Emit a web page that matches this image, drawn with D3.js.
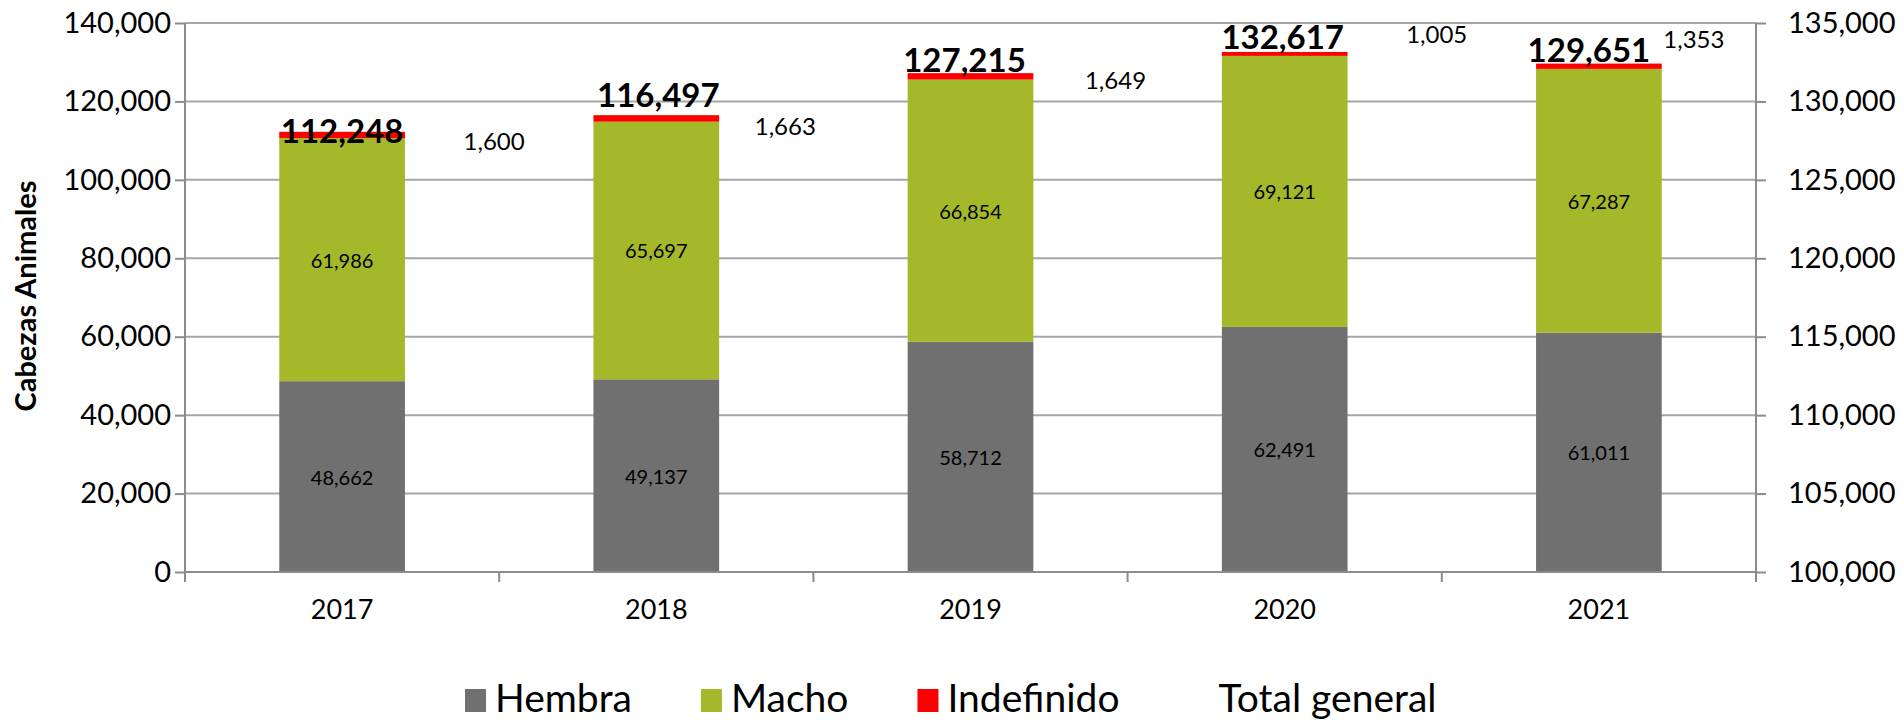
<!DOCTYPE html>
<html>
<head>
<meta charset="utf-8">
<script src="https://cdn.jsdelivr.net/npm/d3@7"></script>
<style>
  body { margin: 0; background: #fff; }
  svg { display: block; font-family: Lato, "Open Sans", sans-serif; }
  .grid line { stroke: #a6a6a6; stroke-width: 2; }
  .axis path, .axis line { stroke: #8c8c8c; stroke-width: 2; }
  .axis text { fill: #000; font-size: 29px; font-family: Lato, "Open Sans", sans-serif; }
</style>
</head>
<body>
<div id="chart"></div>
<script>
// data
var years = ['2017', '2018', '2019', '2020', '2021'];
var hembra = [48662, 49137, 58712, 62491, 61011];
var macho = [61986, 65697, 66854, 69121, 67287];
var indefinido = [1600, 1663, 1649, 1005, 1353];
var totalGeneral = [112248, 116497, 127215, 132617, 129651];
var leftTicks = [0, 20000, 40000, 60000, 80000, 100000, 120000, 140000];
var rightTicks = [100000, 105000, 110000, 115000, 120000, 125000, 130000, 135000];

var series = [
    {name: 'Hembra', values: hembra, color: '#707070'},
    {name: 'Macho', values: macho, color: '#a5b829'},
    {name: 'Indefinido', values: indefinido, color: '#ff0000'}
];

var W = 1903, H = 720;
var m = {left: 185, right: 1756, top: 23, bottom: 572};

var svg = d3.select('#chart').append('svg')
    .attr('width', W)
    .attr('height', H);

var x = d3.scaleBand().domain(years).range([m.left, m.right])
    .paddingInner(0.6).paddingOuter(0.3);
var xOuter = d3.scaleBand().domain(years).range([m.left, m.right]).padding(0);
var y = d3.scaleLinear().domain([0, 140000]).range([m.bottom, m.top]);
var y2 = d3.scaleLinear().domain([100000, 135000]).range([m.bottom, m.top]);
var fmt = d3.format(',');

// gridlines
svg.append('g').attr('class', 'grid')
    .selectAll('line').data(leftTicks.slice(1)).enter().append('line')
    .attr('x1', m.left).attr('x2', m.right)
    .attr('y1', function(d) { return y(d); })
    .attr('y2', function(d) { return y(d); });

// stacked bars
var rows = years.map(function(yr, i) {
    var r = {year: yr};
    series.forEach(function(s) { r[s.name] = s.values[i]; });
    return r;
});
var stack = d3.stack().keys(series.map(function(s) { return s.name; }))(rows);

var layers = svg.selectAll('.layer').data(stack).enter().append('g')
    .attr('class', 'layer')
    .attr('fill', function(d, i) { return series[i].color; });

layers.selectAll('rect').data(function(d) { return d; }).enter().append('rect')
    .attr('x', function(d) { return x(d.data.year); })
    .attr('width', x.bandwidth())
    .attr('y', function(d) { return y(d[1]); })
    .attr('height', function(d) { return y(d[0]) - y(d[1]); });

// axes
var yAxis = d3.axisLeft(y).tickValues(leftTicks).tickFormat(fmt).tickSize(10).tickPadding(4);
svg.append('g').attr('class', 'axis')
    .attr('transform', 'translate(' + m.left + ',0)')
    .call(yAxis)
    .call(function(g) { g.select('.domain').attr('d', 'M0,' + m.top + 'V' + m.bottom); });

var yAxis2 = d3.axisRight(y2).tickValues(rightTicks).tickFormat(fmt).tickSize(10).tickPadding(22);
svg.append('g').attr('class', 'axis')
    .attr('transform', 'translate(' + m.right + ',0)')
    .call(yAxis2)
    .call(function(g) { g.select('.domain').attr('d', 'M0,' + m.top + 'V' + m.bottom); });

var xAxis = d3.axisBottom(x).tickSize(0).tickPadding(28);
var xg = svg.append('g').attr('class', 'axis')
    .attr('transform', 'translate(0,' + m.bottom + ')')
    .call(xAxis);
xg.select('.domain').attr('d', 'M' + m.left + ',0H' + m.right);
xg.selectAll('.bound').data(years.map(function(d) { return xOuter(d); }).concat([m.right]))
    .enter().append('line').attr('class', 'bound')
    .attr('x1', function(d) { return d; }).attr('x2', function(d) { return d; })
    .attr('y1', 0).attr('y2', 10);
xg.selectAll('.tick text').style('font-size', '27px');

// labels inside segments
[0, 1].forEach(function(k) {
    svg.append('g').selectAll('text').data(stack[k]).enter().append('text')
        .attr('x', function(d) { return x(d.data.year) + x.bandwidth() / 2; })
        .attr('y', function(d) { return y((d[0] + d[1]) / 2); })
        .attr('text-anchor', 'middle')
        .attr('dominant-baseline', 'central')
        .attr('font-size', 20)
        .text(function(d) { return fmt(d[1] - d[0]); });
});

// label nudges, as moved by hand in the original
var totalNudge = [[0, -2], [2, -21], [-6, -14], [-2, -16], [-10, -15]];
var indefNudge = [[152, 9], [129, 10], [145, 6], [152, -18], [95, -25]];

svg.append('g').selectAll('text').data(totalGeneral).enter().append('text')
    .attr('x', function(d, i) { return x(years[i]) + x.bandwidth() / 2 + totalNudge[i][0]; })
    .attr('y', function(d, i) { return y(d) + totalNudge[i][1]; })
    .attr('text-anchor', 'middle')
    .attr('dominant-baseline', 'central')
    .attr('font-size', 33)
    .attr('font-weight', 'bold')
    .text(function(d) { return fmt(d); });

svg.append('g').selectAll('text').data(indefinido).enter().append('text')
    .attr('x', function(d, i) { return x(years[i]) + x.bandwidth() / 2 + indefNudge[i][0]; })
    .attr('y', function(d, i) { return y(totalGeneral[i]) + indefNudge[i][1]; })
    .attr('text-anchor', 'middle')
    .attr('dominant-baseline', 'central')
    .attr('font-size', 24)
    .text(function(d) { return fmt(d); });

// y title
svg.append('text')
    .attr('transform', 'translate(24,296) rotate(-90)')
    .attr('text-anchor', 'middle')
    .attr('dominant-baseline', 'central')
    .attr('font-size', 29)
    .attr('font-weight', 'bold')
    .text('Cabezas Animales');

// legend
var legendItems = series.concat([{name: 'Total general', color: 'none'}]);
var lx = 465;
var legend = svg.append('g');
legendItems.forEach(function(s) {
    legend.append('rect')
        .attr('x', lx).attr('y', 689).attr('width', 21).attr('height', 23)
        .attr('fill', s.color);
    var t = legend.append('text')
        .attr('x', lx + 30).attr('y', 712)
        .attr('font-size', 39)
        .text(s.name);
    lx += 30 + t.node().getComputedTextLength() + 69;
});
</script>
</body>
</html>
